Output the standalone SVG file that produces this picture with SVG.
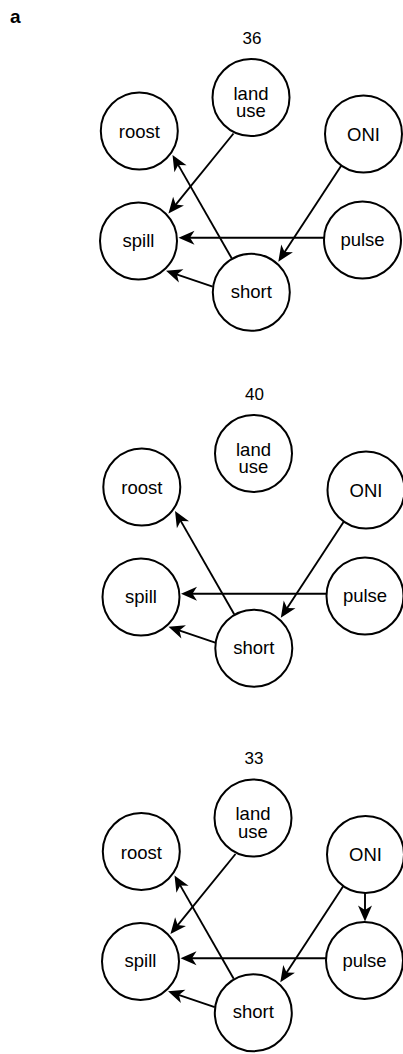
<svg xmlns="http://www.w3.org/2000/svg" width="403" height="1054" viewBox="0 0 403 1054">
<style>
.bg{fill:#fff}
.node circle{fill:#fff;stroke:#000;stroke-width:2}
.lbl{font-family:"Liberation Sans",Arial,Helvetica,sans-serif;font-size:18.5px;fill:#000;text-anchor:middle}
.ttl{font-family:"Liberation Sans",Arial,Helvetica,sans-serif;font-size:17px;fill:#000;text-anchor:middle}
.panel-letter{font-family:"Liberation Sans",Arial,Helvetica,sans-serif;font-size:19px;font-weight:bold;fill:#000}
.edges line{stroke:#000;stroke-width:1.9;fill:none;marker-end:url(#arr)}
</style>
<defs>
<marker id="arr" markerUnits="userSpaceOnUse" viewBox="-17 -8 18 16" markerWidth="18" markerHeight="16" refX="-8" refY="0" orient="auto" overflow="visible">
<path d="M0,0 L-16,-7 L-11.5,0 L-16,7 Z" fill="#000"/>
</marker>
</defs>
<rect class="bg" x="0" y="0" width="403" height="1054"/>
<text class="panel-letter" x="10" y="22.5">a</text>

<g id="panel-36">
<text class="ttl" x="252" y="43.5">36</text>
<g class="edges" id="edges-36">
<line x1="233.5" y1="133.5" x2="173.5" y2="207.3"/>
<line x1="231.7" y1="258.3" x2="176.5" y2="161.9"/>
<line x1="341.7" y1="165" x2="282.7" y2="255"/>
<line x1="324" y1="237.7" x2="186.5" y2="237.7"/>
<line x1="212.7" y1="286.7" x2="173.6" y2="273.3"/>
</g>
<g class="node" id="p36-landuse"><circle cx="251" cy="97.5" r="38.5"/><text class="lbl" x="251" y="99.5">land<tspan x="251" dy="17.5">use</tspan></text></g>
<g class="node" id="p36-roost"><circle cx="139.3" cy="131" r="38.5"/><text class="lbl" x="139.3" y="138">roost</text></g>
<g class="node" id="p36-oni"><circle cx="363.5" cy="134" r="38.5"/><text class="lbl" x="363.5" y="140.7">ONI</text></g>
<g class="node" id="p36-spill"><circle cx="138.5" cy="241" r="38.5"/><text class="lbl" x="138.5" y="246.5">spill</text></g>
<g class="node" id="p36-pulse"><circle cx="362.5" cy="240" r="38.5"/><text class="lbl" x="362.5" y="246">pulse</text></g>
<g class="node" id="p36-short"><circle cx="251.3" cy="292.3" r="38.5"/><text class="lbl" x="251.3" y="297.5">short</text></g>
</g>

<g id="panel-40" transform="translate(2.5,356)">
<text class="ttl" x="252" y="43.5">40</text>
<g class="edges" id="edges-40">
<line x1="231.7" y1="258.3" x2="176.5" y2="161.9"/>
<line x1="341.7" y1="165" x2="282.7" y2="255"/>
<line x1="324" y1="237.7" x2="186.5" y2="237.7"/>
<line x1="212.7" y1="286.7" x2="173.6" y2="273.3"/>
</g>
<g class="node" id="p40-landuse"><circle cx="251" cy="97.5" r="38.5"/><text class="lbl" x="251" y="99.5">land<tspan x="251" dy="17.5">use</tspan></text></g>
<g class="node" id="p40-roost"><circle cx="139.3" cy="131" r="38.5"/><text class="lbl" x="139.3" y="138">roost</text></g>
<g class="node" id="p40-oni"><circle cx="363.5" cy="134" r="38.5"/><text class="lbl" x="363.5" y="140.7">ONI</text></g>
<g class="node" id="p40-spill"><circle cx="138.5" cy="241" r="38.5"/><text class="lbl" x="138.5" y="246.5">spill</text></g>
<g class="node" id="p40-pulse"><circle cx="362.5" cy="240" r="38.5"/><text class="lbl" x="362.5" y="246">pulse</text></g>
<g class="node" id="p40-short"><circle cx="251.3" cy="292.3" r="38.5"/><text class="lbl" x="251.3" y="297.5">short</text></g>
</g>

<g id="panel-33" transform="translate(2,720.5)">
<text class="ttl" x="252" y="43.5">33</text>
<g class="edges" id="edges-33">
<line x1="233.5" y1="133.5" x2="173.5" y2="207.3"/>
<line x1="231.7" y1="258.3" x2="176.5" y2="161.9"/>
<line x1="341.7" y1="165" x2="282.7" y2="255"/>
<line x1="363" y1="172.5" x2="363" y2="193"/>
<line x1="324" y1="237.7" x2="186.5" y2="237.7"/>
<line x1="212.7" y1="286.7" x2="173.6" y2="273.3"/>
</g>
<g class="node" id="p33-landuse"><circle cx="251" cy="97.5" r="38.5"/><text class="lbl" x="251" y="99.5">land<tspan x="251" dy="17.5">use</tspan></text></g>
<g class="node" id="p33-roost"><circle cx="139.3" cy="131" r="38.5"/><text class="lbl" x="139.3" y="138">roost</text></g>
<g class="node" id="p33-oni"><circle cx="363.5" cy="134" r="38.5"/><text class="lbl" x="363.5" y="140.7">ONI</text></g>
<g class="node" id="p33-spill"><circle cx="138.5" cy="241" r="38.5"/><text class="lbl" x="138.5" y="246.5">spill</text></g>
<g class="node" id="p33-pulse"><circle cx="362.5" cy="240" r="38.5"/><text class="lbl" x="362.5" y="246">pulse</text></g>
<g class="node" id="p33-short"><circle cx="251.3" cy="292.3" r="38.5"/><text class="lbl" x="251.3" y="297.5">short</text></g>
</g>
</svg>
